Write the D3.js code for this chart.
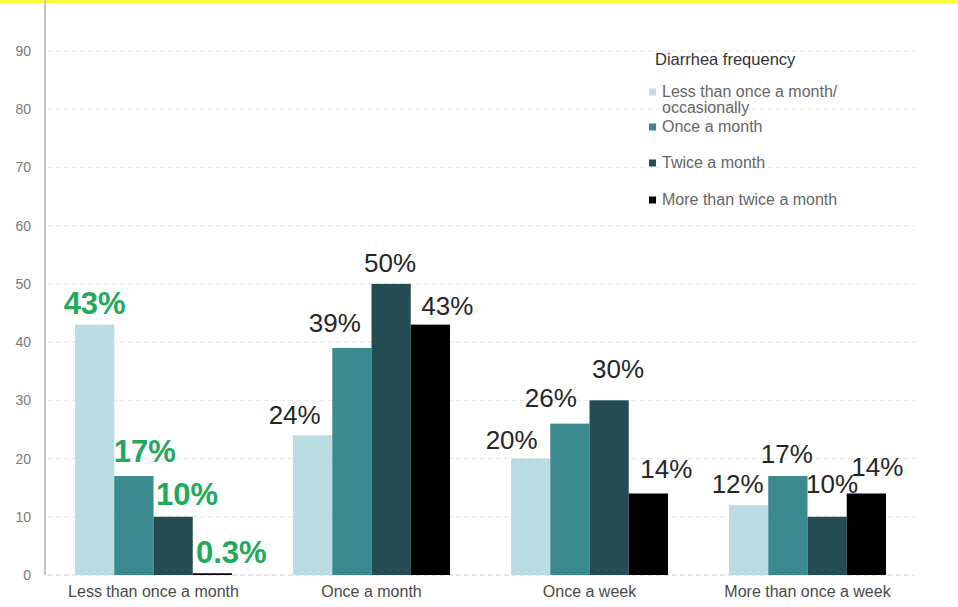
<!DOCTYPE html>
<html>
<head>
<meta charset="utf-8">
<script src="https://cdn.jsdelivr.net/npm/d3@7"></script>
<style>
  html, body { margin: 0; padding: 0; background: #fff; }
  svg { display: block; font-family: "Liberation Sans", Arial, sans-serif; }
</style>
</head>
<body>
<svg id="chart" width="958" height="607"></svg>
<script>
// Diarrhea frequency by group (percent of respondents)
const categories = ["Less than once a month", "Once a month", "Once a week", "More than once a week"];
const seriesNames = ["Less than once a month/ occasionally", "Once a month", "Twice a month", "More than twice a month"];
const lessThanOnce = [43, 24, 20, 12];
const onceMonth = [17, 39, 26, 17];
const twiceMonth = [10, 50, 30, 10];
const moreThanTwice = [0.3, 43, 14, 14];
const valueLabels = [
  ["43%", "17%", "10%", "0.3%"],
  ["24%", "39%", "50%", "43%"],
  ["20%", "26%", "30%", "14%"],
  ["12%", "17%", "10%", "14%"]
];
const yTicks = [0, 10, 20, 30, 40, 50, 60, 70, 80, 90];

// Styling
const colors = ["#b9dde2", "#3b8a90", "#244c52", "#000000"];
const highlightGroup = 0;            // first group's labels are emphasised
// label nudges (dx from bar centre, dy from bar top to baseline), per group / bar
const labelNudge = [
  [[0, -11], [11, -14], [14, -12], [19, -10]],
  [[-18, -11], [-17, -16], [-1, -12], [17, -10]],
  [[-19, -10], [-19, -17], [9, -22], [18, -15]],
  [[-11, -12], [-1, -13], [5, -24], [11, -17]]
];

const series = [lessThanOnce, onceMonth, twiceMonth, moreThanTwice];

const svg = d3.select("#chart");

// thin yellow strip along the top edge
svg.append("rect").attr("x", 0).attr("y", 0).attr("width", 958).attr("height", 3)
  .attr("fill", "#fbfb3a");

const x0 = d3.scaleBand().domain(categories).range([44.5, 916.5])
  .paddingInner(0.28).paddingOuter(0.14);
const x1 = d3.scaleBand().domain(d3.range(series.length)).range([0, x0.bandwidth()]);
const y = d3.scaleLinear().domain([0, 90]).range([575, 51]);

// gridlines
const grid = svg.append("g");
grid.selectAll("line").data(yTicks).join("line")
  .attr("x1", 48).attr("x2", 915)
  .attr("y1", d => y(d)).attr("y2", d => y(d))
  .attr("stroke", d => d === 0 ? "#cfcfcf" : "#e6e6e6")
  .attr("stroke-width", 1)
  .attr("stroke-dasharray", "5,3");

// y axis
const yAxis = d3.axisLeft(y).tickValues(yTicks).tickSize(0).tickPadding(0);
const gy = svg.append("g").attr("transform", "translate(31,0)").call(yAxis);
gy.select(".domain").remove();
gy.selectAll("text").attr("font-size", 14).attr("fill", "#7a7a7a")
  .attr("font-family", "Liberation Sans, Arial, sans-serif");
svg.append("line").attr("x1", 45).attr("x2", 45).attr("y1", 0).attr("y2", y(0))
  .attr("stroke", "#c4c4c4").attr("stroke-width", 2);

// x axis (labels only)
const xAxis = d3.axisBottom(x0).tickSize(0).tickPadding(0);
const gx = svg.append("g").attr("transform", `translate(0,${y(0) + 8})`).call(xAxis);
gx.select(".domain").remove();
gx.selectAll("text").attr("font-size", 16).attr("fill", "#4a4a4a")
  .attr("font-family", "Liberation Sans, Arial, sans-serif")
  .attr("dy", "0.85em");

// bars
const groups = svg.append("g").selectAll("g").data(categories).join("g")
  .attr("transform", d => `translate(${x0(d)},0)`);

groups.each(function (cat, gi) {
  const g = d3.select(this);
  series.forEach((vals, si) => {
    const v = vals[gi];
    g.append("rect")
      .attr("x", x1(si))
      .attr("y", y(v))
      .attr("width", x1.bandwidth())
      .attr("height", y(0) - y(v))
      .attr("fill", colors[si]);
  });
  series.forEach((vals, si) => {
    const v = vals[gi];
    const [dx, dy] = labelNudge[gi][si];
    const hi = gi === highlightGroup;
    g.append("text")
      .attr("x", x1(si) + x1.bandwidth() / 2 + dx)
      .attr("y", y(v) + dy)
      .attr("text-anchor", "middle")
      .attr("font-size", hi ? 31 : 26)
      .attr("font-weight", hi ? "bold" : "normal")
      .attr("fill", hi ? "#24a85e" : "#262626")
      .text(valueLabels[gi][si]);
  });
});

// legend
const legend = svg.append("g");
legend.append("text").attr("x", 655).attr("y", 65)
  .attr("font-size", 16.5).attr("fill", "#333").text("Diarrhea frequency");

const legendItems = [
  { lines: ["Less than once a month/", "occasionally"], y: 92 },
  { lines: ["Once a month"], y: 127 },
  { lines: ["Twice a month"], y: 163 },
  { lines: ["More than twice a month"], y: 200 }
];
legendItems.forEach((item, i) => {
  legend.append("rect").attr("x", 649).attr("y", item.y - 3.5)
    .attr("width", 7).attr("height", 7).attr("fill", colors[i]);
  const t = legend.append("text").attr("x", 662).attr("y", item.y + 5)
    .attr("font-size", 16).attr("fill", "#666");
  item.lines.forEach((ln, k) => {
    t.append("tspan").attr("x", 662).attr("dy", k === 0 ? 0 : 16).text(ln);
  });
});
</script>
</body>
</html>
